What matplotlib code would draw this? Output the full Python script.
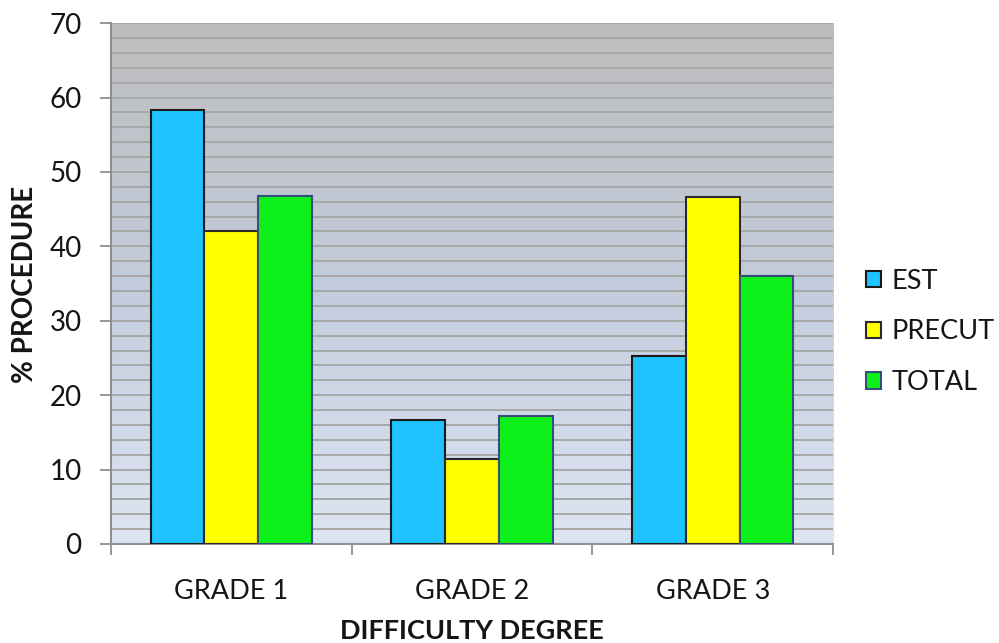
import numpy as np
import matplotlib
matplotlib.use("Agg")
import matplotlib.pyplot as plt
from matplotlib.colors import LinearSegmentedColormap
from matplotlib.patches import Patch

categories = ["GRADE 1", "GRADE 2", "GRADE 3"]
series_names = ["EST", "PRECUT", "TOTAL"]
est = [58.3, 16.7, 25.3]
precut = [42.1, 11.4, 46.6]
total = [46.8, 17.2, 36.0]
y_ticks = [0, 10, 20, 30, 40, 50, 60, 70]

plt.rcParams['font.family'] = ['Lato', 'DejaVu Sans']
TXT = '#151515'

fig = plt.figure(figsize=(9.99, 6.43), dpi=100)
ax = fig.add_axes([0.111, 0.154, 0.723, 0.810])

# gradient background
cmap = LinearSegmentedColormap.from_list("bg", ["#DDE5F3", "#C3CCDC", "#BDBDBD"])
grad = np.linspace(0, 1, 256).reshape(-1, 1)
ax.imshow(grad, aspect='auto', cmap=cmap, origin='lower',
          extent=[-0.5, 2.5, 0, 70], zorder=0)

# gridlines every 2
for yv in np.arange(2, 71, 2):
    ax.axhline(yv, color='#A8A8A8', lw=1.4, zorder=1)

x = np.arange(len(categories))
w = 0.223
colors = ["#1EC3FF", "#FFFF00", "#0EF01A"]
edges = ["#1A1A1A", "#2A2A2A", "#34507A"]
for i, (vals, name) in enumerate(zip([est, precut, total], series_names)):
    ax.bar(x + (i - 1) * w, vals, width=w, color=colors[i], edgecolor=edges[i],
           linewidth=1.5, zorder=3, label=name)

ax.set_xlim(-0.5, 2.5)
ax.set_ylim(0, 70)
ax.set_yticks(y_ticks)
ax.set_yticklabels([str(v) for v in y_ticks], fontsize=20, color=TXT)
ax.set_xticks(x)
ax.set_xticklabels(categories, fontsize=19.5, color=TXT)
ax.set_xticks([-0.5, 0.5, 1.5, 2.5], minor=True)
ax.tick_params(axis='x', which='major', length=0, pad=25)
ax.tick_params(axis='x', which='minor', length=8, width=1.3, color='#909090', direction='out')
ax.tick_params(axis='y', length=8, width=1.3, color='#909090', direction='out', pad=13)

for s in ['top', 'right']:
    ax.spines[s].set_visible(False)
for s in ['left', 'bottom']:
    ax.spines[s].set_color('#909090')
    ax.spines[s].set_linewidth(1.5)

fig.text(25 / 999, 1 - 284 / 643, "% PROCEDURE", rotation=90, fontsize=20,
         fontweight='bold', color=TXT, ha='center', va='center')
fig.text(472 / 999, 1 - 639 / 643, "DIFFICULTY DEGREE", fontsize=19.5,
         fontweight='bold', color=TXT, ha='center', va='baseline')

handles = [Patch(facecolor=colors[i], edgecolor=edges[i], linewidth=1.5, label=series_names[i])
           for i in range(3)]
leg = fig.legend(handles=handles, loc='center left', bbox_to_anchor=(0.867, 0.484),
                 frameon=False, fontsize=19.5, handlelength=0.55, handleheight=0.55,
                 handletextpad=0.4, labelspacing=0.95, borderaxespad=0, borderpad=0)
for t in leg.get_texts():
    t.set_color(TXT)

fig.savefig("out.png", dpi=100)
